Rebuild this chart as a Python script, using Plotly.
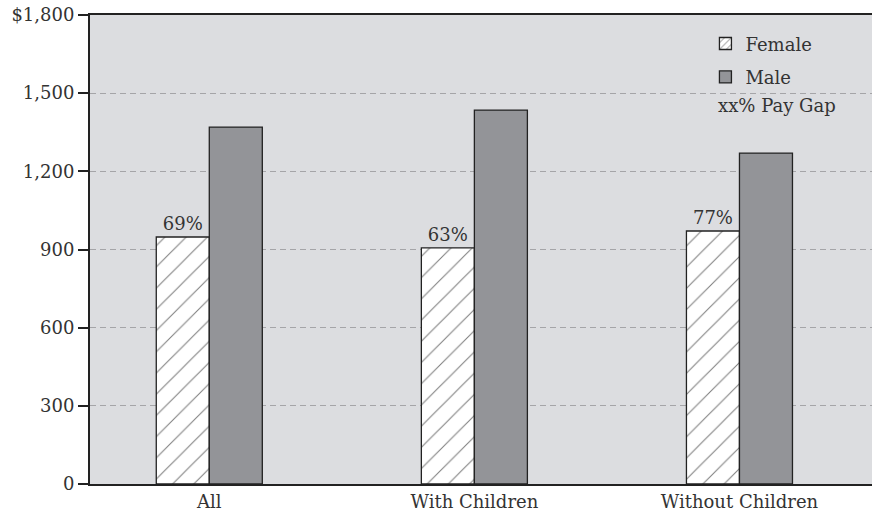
import plotly.graph_objects as go

categories = ["All", "With Children", "Without Children"]
female = [948, 906, 971]
male = [1370, 1435, 1270]
gap_labels = ["69%", "63%", "77%"]
y_ticks = [0, 300, 600, 900, 1200, 1500, 1800]
y_ticktext = ["0", "300", "600", "900", "1,200", "1,500", "$1,800"]

FONT = "DejaVu Serif"
FS = 18
x = list(range(len(categories)))

fig = go.Figure()
fig.add_trace(go.Bar(
    x=x, y=female, name="Female", legendgroup="f", showlegend=False, offsetgroup="f",
    marker=dict(color="white", line=dict(color="#222", width=1.3),
                pattern=dict(shape="/", fgcolor="#000", bgcolor="white", size=15, solidity=0.07)),
    text=gap_labels, textposition="outside", cliponaxis=False,
    textfont=dict(family=FONT, size=FS, color="#333"),
))
fig.add_trace(go.Bar(
    x=x, y=male, name="Male", legendgroup="m", offsetgroup="m", legendrank=2,
    marker=dict(color="#939498", line=dict(color="#222", width=1.3)),
))
# legend-only entry for Female, on a hidden overlay axis so it takes no bar slot
fig.add_trace(go.Bar(
    x=[None], y=[None], name="Female", legendgroup="f", legendrank=1, xaxis="x2",
    marker=dict(color="white", line=dict(color="#222", width=1.3),
                pattern=dict(shape="/", fgcolor="#000", bgcolor="white", size=6, solidity=0.2)),
))

fig.update_layout(
    width=872, height=515,
    margin=dict(l=90, r=0, t=15, b=31),
    paper_bgcolor="white", plot_bgcolor="#dcdde0",
    barmode="group", bargap=0.6, bargroupgap=0,
    font=dict(family=FONT, size=FS, color="#333"),
    showlegend=True,
    legend=dict(x=0.787, y=0.978, xanchor="left", yanchor="top",
                bgcolor="rgba(0,0,0,0)", font=dict(family=FONT, size=FS, color="#333"),
                itemwidth=30, tracegroupgap=7, traceorder="grouped"),
    xaxis=dict(range=[-0.45, 2.5], tickvals=x, ticktext=categories,
               showline=True, linecolor="#222", linewidth=2, mirror=True,
               showgrid=False, ticks="", zeroline=False,
               tickfont=dict(family=FONT, size=FS, color="#333")),
    xaxis2=dict(overlaying="x", visible=False, range=[-0.45, 2.5]),
    yaxis=dict(range=[0, 1800], tickvals=y_ticks, ticktext=y_ticktext,
               showline=True, linecolor="#222", linewidth=2,
               ticks="outside", ticklen=10, tickwidth=2, tickcolor="#222",
               showgrid=True, gridcolor="#a5a5a8", griddash="6px,4px", gridwidth=1,
               zeroline=False,
               tickfont=dict(family=FONT, size=FS, color="#333")),
    annotations=[dict(xref="paper", yref="paper", x=0.8, y=0.806,
                      xanchor="left", yanchor="middle", showarrow=False,
                      text="xx% Pay Gap", font=dict(family=FONT, size=FS, color="#333"))],
)

fig.write_html("out.html", config={"displayModeBar": False},
               post_script="document.body.style.margin='0';document.body.style.overflow='hidden';")
